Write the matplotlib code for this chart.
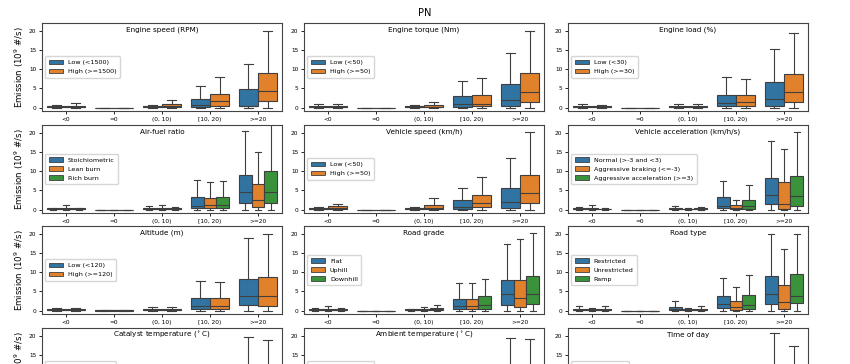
import matplotlib
matplotlib.use("Agg")
import matplotlib.pyplot as plt
from matplotlib.patches import Patch

categories = ["<0", "=0", "(0, 10)", "[10, 20)", ">=20"]
colors = ["#3274a1", "#e1812c", "#3a923a"]
line_color = "#3f3f3f"

# every box is (whisker low, q1, median, q3, whisker high), one per category
speed_labels = ["Low (<1500)", "High (>=1500)"]
speed_stats = [
    [(0, 0.1, 0.25, 0.4, 0.7), (0, 0, 0, 0, 0), (0, 0.05, 0.2, 0.5, 0.7), (0, 0.2, 0.6, 2.3, 5.6), (0, 0.3, 0.5, 4.8, 11.4)],
    [(0, 0.05, 0.2, 0.5, 1.3), (0, 0, 0, 0, 0), (0, 0.1, 0.3, 0.8, 2.0), (0, 0.4, 1.6, 3.5, 8.0), (0, 1.6, 4.3, 8.9, 20.0)],
]

torque_labels = ["Low (<50)", "High (>=50)"]
torque_stats = [
    [(0, 0.1, 0.25, 0.4, 0.8), (0, 0, 0, 0, 0), (0, 0.05, 0.2, 0.5, 0.7), (0, 0.2, 1.0, 3.0, 7.0), (0, 0.5, 1.9, 6.0, 14.1)],
    [(0, 0.1, 0.25, 0.4, 0.8), (0, 0, 0, 0, 0), (0, 0.05, 0.25, 0.6, 1.4), (0, 0.3, 1.0, 3.3, 7.6), (0, 1.5, 4.1, 8.9, 20.0)],
]

load_labels = ["Low (<30)", "High (>=30)"]
load_stats = [
    [(0, 0.05, 0.15, 0.3, 1.0), (0, 0, 0, 0, 0), (0, 0.05, 0.2, 0.4, 0.8), (0, 0.3, 1.2, 3.3, 8.0), (0, 0.5, 2.2, 6.7, 15.3)],
    [(0, 0.05, 0.15, 0.35, 0.6), (0, 0, 0, 0, 0), (0, 0.05, 0.2, 0.5, 1.0), (0, 0.3, 1.4, 3.3, 7.4), (0, 1.5, 4.0, 8.7, 19.5)],
]

afr_labels = ["Stoichiometric", "Lean burn", "Rich burn"]
afr_stats = [
    [(0, 0.05, 0.15, 0.3, 0.5), (0, 0, 0, 0, 0), (0, 0.05, 0.2, 0.4, 0.8), (0, 0.3, 1.0, 3.3, 7.7), (0, 1.8, 4.5, 9.1, 20.4)],
    [(0, 0.1, 0.25, 0.5, 1.2), (0, 0, 0, 0, 0), (0, 0.05, 0.25, 0.5, 1.3), (0, 0.3, 1.1, 2.9, 7.1), (0, 0.6, 2.5, 6.6, 15.1)],
    [(0, 0.05, 0.15, 0.3, 0.5), (0, 0, 0, 0, 0), (0, 0.05, 0.2, 0.4, 0.7), (0, 0.3, 1.1, 3.2, 7.3), (0, 1.8, 4.5, 10.0, 23.0)],
]

vspeed_labels = ["Low (<50)", "High (>=50)"]
vspeed_stats = [
    [(0, 0.05, 0.15, 0.3, 0.6), (0, 0, 0, 0, 0), (0, 0.05, 0.15, 0.3, 0.6), (0, 0.2, 0.7, 2.4, 5.6), (0, 0.3, 1.9, 5.7, 13.3)],
    [(0, 0.1, 0.4, 0.8, 1.5), (0, 0, 0, 0, 0), (0, 0.1, 0.5, 1.3, 3.1), (0, 0.6, 1.8, 3.7, 8.4), (0, 1.7, 4.3, 9.1, 20.1)],
]

accel_labels = ["Normal (>-3 and <3)", "Aggressive braking (<=-3)", "Aggressive acceleration (>=3)"]
accel_stats = [
    [(0, 0.05, 0.15, 0.3, 0.6), (0, 0, 0, 0, 0), (0, 0.05, 0.2, 0.4, 1.0), (0, 0.4, 1.0, 3.3, 7.4), (0, 1.4, 3.9, 8.1, 17.8)],
    [(0, 0.05, 0.2, 0.4, 1.1), (0, 0, 0, 0, 0), (0, 0.05, 0.1, 0.2, 0.3), (0, 0.1, 0.4, 1.3, 2.4), (0, 0.2, 1.4, 7.2, 15.7)],
    [(0, 0.05, 0.1, 0.15, 0.3), (0, 0, 0, 0, 0), (0, 0.05, 0.15, 0.3, 0.7), (0, 0.2, 0.8, 2.6, 6.5), (0, 1.0, 3.4, 8.7, 20.1)],
]

alt_labels = ["Low (<120)", "High (>=120)"]
alt_stats = [
    [(0, 0.05, 0.15, 0.3, 0.6), (0, 0, 0.05, 0.1, 0.1), (0, 0.05, 0.25, 0.5, 0.9), (0, 0.3, 1.2, 3.2, 7.6), (0, 1.4, 3.7, 8.3, 19.0)],
    [(0, 0.05, 0.15, 0.3, 0.7), (0, 0, 0.05, 0.1, 0.1), (0, 0.05, 0.2, 0.4, 1.0), (0, 0.3, 1.1, 3.2, 7.4), (0, 1.2, 3.8, 8.7, 19.9)],
]

grade_labels = ["Flat", "Uphill", "Downhill"]
grade_stats = [
    [(0, 0.05, 0.15, 0.3, 0.6), (0, 0, 0, 0, 0), (0, 0.05, 0.15, 0.3, 0.5), (0, 0.3, 1.2, 3.0, 7.1), (0, 1.5, 4.2, 8.0, 17.2)],
    [(0, 0.05, 0.2, 0.5, 1.2), (0, 0, 0, 0, 0), (0, 0.05, 0.2, 0.4, 0.9), (0, 0.3, 1.1, 3.0, 7.1), (0, 1.0, 3.3, 8.0, 18.5)],
    [(0, 0.05, 0.2, 0.4, 0.7), (0, 0, 0, 0, 0), (0, 0.1, 0.3, 0.6, 1.5), (0, 0.5, 1.5, 3.7, 8.2), (0, 1.6, 4.4, 9.1, 20.1)],
]

road_labels = ["Restricted", "Unrestricted", "Ramp"]
road_stats = [
    [(0, 0.05, 0.2, 0.5, 1.2), (0, 0, 0, 0, 0), (0, 0.1, 0.4, 1.0, 2.4), (0, 0.7, 1.7, 3.9, 8.4), (0, 1.7, 4.3, 9.1, 19.9)],
    [(0, 0.05, 0.2, 0.5, 0.7), (0, 0, 0, 0, 0), (0, 0.05, 0.15, 0.3, 0.7), (0, 0.2, 1.0, 2.5, 6.0), (0, 0.4, 2.2, 6.7, 15.9)],
    [(0, 0.05, 0.2, 0.4, 1.1), (0, 0, 0, 0, 0), (0, 0.05, 0.2, 0.5, 1.2), (0, 0.4, 1.5, 4.1, 9.2), (0, 1.9, 3.9, 9.5, 19.8)],
]

cat_labels = ["Low (<300)", "High (>=300)"]
cat_stats = [
    [(0, 0.05, 0.2, 0.5, 1.0), (0, 0, 0, 0, 0), (0, 0.05, 0.2, 0.5, 1.0), (0, 0.3, 1.2, 3.3, 7.6), (0, 1.5, 4.0, 8.5, 19.75)],
    [(0, 0.05, 0.2, 0.4, 0.8), (0, 0, 0, 0, 0), (0, 0.05, 0.2, 0.4, 0.9), (0, 0.3, 1.1, 3.1, 7.3), (0, 1.3, 3.7, 8.2, 18.8)],
]

amb_labels = ["Low (<20)", "High (>=20)"]
amb_stats = [
    [(0, 0.05, 0.2, 0.4, 0.8), (0, 0, 0, 0, 0), (0, 0.05, 0.2, 0.4, 0.9), (0, 0.3, 1.1, 3.2, 7.5), (0, 1.4, 3.9, 8.4, 19.4)],
    [(0, 0.05, 0.2, 0.4, 0.8), (0, 0, 0, 0, 0), (0, 0.05, 0.2, 0.5, 1.0), (0, 0.3, 1.2, 3.2, 7.4), (0, 1.4, 3.8, 8.4, 19.2)],
]

tod_labels = ["Daytime", "Nighttime"]
tod_stats = [
    [(0, 0.05, 0.2, 0.4, 0.8), (0, 0, 0, 0, 0), (0, 0.05, 0.2, 0.5, 1.0), (0, 0.3, 1.2, 3.3, 7.6), (0, 1.5, 4.1, 8.7, 20.8)],
    [(0, 0.05, 0.2, 0.4, 0.7), (0, 0, 0, 0, 0), (0, 0.05, 0.2, 0.4, 0.8), (0, 0.3, 1.0, 2.9, 6.8), (0, 1.0, 3.2, 7.2, 17.3)],
]

panels = [
    ("Engine speed (RPM)", speed_labels, speed_stats),
    ("Engine torque (Nm)", torque_labels, torque_stats),
    ("Engine load (%)", load_labels, load_stats),
    ("Air-fuel ratio", afr_labels, afr_stats),
    ("Vehicle speed (km/h)", vspeed_labels, vspeed_stats),
    ("Vehicle acceleration (km/h/s)", accel_labels, accel_stats),
    ("Altitude (m)", alt_labels, alt_stats),
    ("Road grade", grade_labels, grade_stats),
    ("Road type", road_labels, road_stats),
    (r"Catalyst temperature ($^\circ$C)", cat_labels, cat_stats),
    (r"Ambient temperature ($^\circ$C)", amb_labels, amb_stats),
    ("Time of day", tod_labels, tod_stats),
]


def draw_panel(ax, title, labels, stats, show_xlabels=True):
    n = len(labels)
    w = 0.8 / n
    lw = 0.8
    for h, st in enumerate(stats):
        pos = [i - 0.4 + w * (h + 0.5) for i in range(len(categories))]
        boxes = [dict(whislo=s[0], q1=s[1], med=s[2], q3=s[3], whishi=s[4], fliers=[]) for s in st]
        ax.bxp(boxes, positions=pos, widths=w, patch_artist=True, showfliers=False,
               manage_ticks=False,
               boxprops=dict(facecolor=colors[h], edgecolor=line_color, linewidth=lw),
               medianprops=dict(color=line_color, linewidth=lw),
               whiskerprops=dict(color=line_color, linewidth=lw),
               capprops=dict(color=line_color, linewidth=lw))
    ax.set_xlim(-0.5, len(categories) - 0.5)
    ax.set_ylim(-0.9, 22)
    ax.set_xticks(range(len(categories)))
    ax.set_xticklabels(categories)
    ax.set_yticks([0, 5, 10, 15, 20])
    ax.tick_params(labelsize=4.2, length=2.5, width=0.6, pad=1.5)
    # bottom row runs off the bottom of the figure, its labels are never seen
    ax.tick_params(axis="x", labelbottom=show_xlabels)
    for sp in ax.spines.values():
        sp.set_linewidth(0.8)
        sp.set_color("#444444")
    ax.text(0.5, 0.92, title, transform=ax.transAxes, ha="center", va="center", fontsize=5.2)
    handles = [Patch(facecolor=colors[h], edgecolor=line_color, linewidth=0.6, label=labels[h]) for h in range(n)]
    leg = ax.legend(handles=handles, loc="center left", fontsize=4.6, labelspacing=0.55,
                    handlelength=2.2, handleheight=0.7, borderpad=0.55, framealpha=0.8)
    if not show_xlabels:
        for t in leg.get_texts():
            t.set_visible(False)


fig = plt.figure(figsize=(8.5, 3.64), dpi=100)
W, H = 850.0, 364.0
col_left = [42, 304, 568]
row_top = [23, 125, 226, 328]
ax_w, ax_h = 240, 88

for k, (title, labels, stats) in enumerate(panels):
    r, c = divmod(k, 3)
    ax = fig.add_axes([col_left[c] / W, 1 - (row_top[r] + ax_h) / H, ax_w / W, ax_h / H])
    draw_panel(ax, title, labels, stats, show_xlabels=(r < 3))
    if c == 0:
        ax.set_ylabel("Emission (10$^9$ #/s)", fontsize=6.2, labelpad=2)

fig.text(0.5, 1 - 12.5 / H, "PN", ha="center", va="center", fontsize=7.1)

fig.savefig("out.png", dpi=100)
